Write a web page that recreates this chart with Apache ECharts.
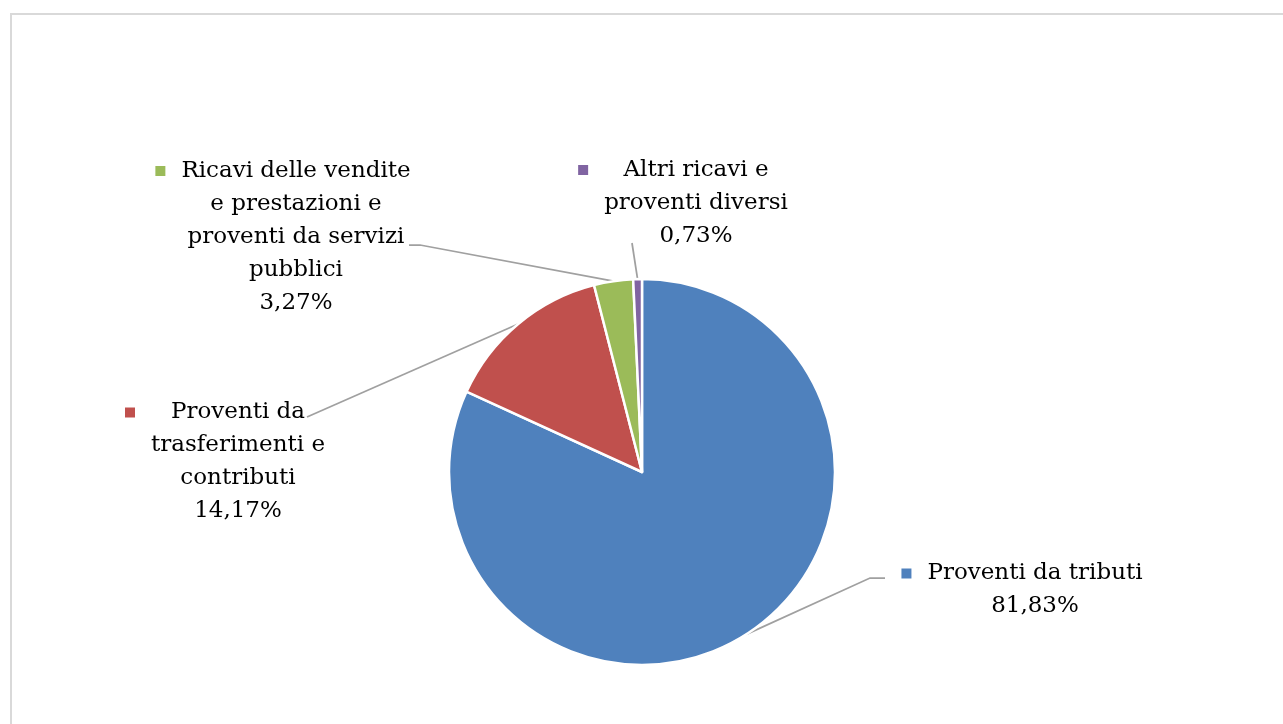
<!DOCTYPE html>
<html><head><meta charset="utf-8">
<script src="https://cdn.jsdelivr.net/npm/echarts@6/dist/echarts.min.js"></script>
<style>html,body{margin:0;padding:0;background:#fff}#c{width:1283px;height:724px}</style>
</head><body><div id="c"></div>
<script>
// ---- data ----
const categories = ['Proventi da tributi', 'Proventi da trasferimenti e contributi', 'Ricavi delle vendite e prestazioni e proventi da servizi pubblici', 'Altri ricavi e proventi diversi'];
const labelTextLines = [
  ['Proventi da tributi'],
  ['Proventi da', 'trasferimenti e', 'contributi'],
  ['Ricavi delle vendite', 'e prestazioni e', 'proventi da servizi', 'pubblici'],
  ['Altri ricavi e', 'proventi diversi']
];
const values = [81.83, 14.17, 3.27, 0.73];
const colors = ['#4f81bd', '#c0504d', '#9bbb59', '#8064a2'];

// ---- label layout (positions only) ----
const FONT_FAMILY = 'DejaVu Serif';
const FONT_SIZE = 23;
const LINE_H = 33;
const MARK = 10, GAP = 16;
const LAYOUT = [
  { x: 1035, y: 590, bend: [870, 578], end: [885, 578] },
  { x: 238, y: 462, bend: [307, 417], end: [307, 417] },
  { x: 296, y: 237, bend: [420, 245], end: [409, 245] },
  { x: 696, y: 203, bend: [632, 243], end: [632, 243] }
];

const ctx = document.createElement('canvas').getContext('2d');
ctx.font = FONT_SIZE + 'px "' + FONT_FAMILY + '"';
function w(t) { return ctx.measureText(t).width; }
function pct(v) { return v.toFixed(2).replace('.', ',') + '%'; }

const data = categories.map(function (name, i) {
  const lines = labelTextLines[i];
  const widest = Math.max.apply(null, lines.map(w).concat([w(pct(values[i]))]));
  const sp = (widest - w(lines[0])) / 2 + GAP;
  const text = '{m|}{s|}' + lines[0] + '{r|}' +
    (lines.length > 1 ? '\n' + lines.slice(1).join('\n') : '') + '\n' + pct(values[i]);
  return {
    name: name,
    value: values[i],
    itemStyle: { color: colors[i] },
    label: {
      formatter: text,
      rich: {
        m: { width: MARK, height: MARK, lineHeight: LINE_H, backgroundColor: colors[i] },
        s: { width: sp, height: 1, lineHeight: LINE_H },
        r: { width: sp + MARK, height: 1, lineHeight: LINE_H }
      }
    }
  };
});

const chart = echarts.init(document.getElementById('c'));
chart.setOption({
  animation: false,
  backgroundColor: '#fff',
  graphic: [{
    type: 'rect', silent: true,
    shape: { x: 11, y: 14, width: 1300, height: 740 },
    style: { fill: 'none', stroke: '#d9d9d9', lineWidth: 2 }
  }],
  series: [{
    type: 'pie',
    center: [642, 472],
    radius: 193,
    startAngle: 90,
    clockwise: true,
    avoidLabelOverlap: false,
    itemStyle: { borderColor: '#fff', borderWidth: 2.5 },
    emphasis: { disabled: true },
    label: {
      show: true,
      position: 'outside',
      color: '#000',
      fontFamily: FONT_FAMILY,
      fontSize: FONT_SIZE,
      lineHeight: LINE_H,
      align: 'center'
    },
    labelLine: {
      show: true, length: 10, length2: 10,
      lineStyle: { color: '#a0a0a0', width: 1.75 }
    },
    labelLayout: function (p) {
      const L = LAYOUT[p.dataIndex];
      const pts = p.labelLinePoints;
      return {
        x: L.x, y: L.y, align: 'center', verticalAlign: 'middle',
        labelLinePoints: [pts[0], L.bend, L.end]
      };
    },
    data: data
  }]
});
</script></body></html>
